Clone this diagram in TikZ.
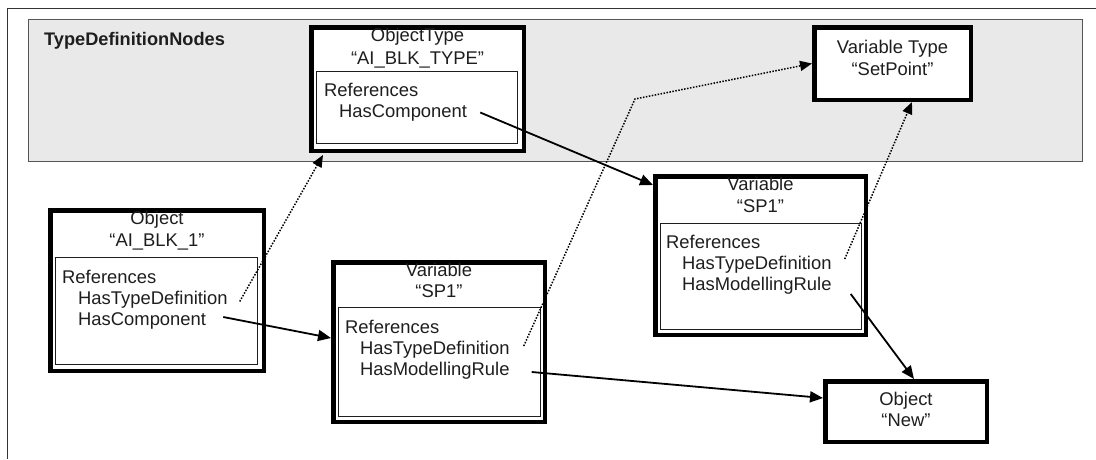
\documentclass[tikz,border=0pt]{standalone}
\usepackage{fontspec}
\setmainfont{Liberation Sans}
\usetikzlibrary{arrows.meta}
\definecolor{ink}{HTML}{1E1E1E}
\definecolor{regionfill}{HTML}{E9E9E9}
\definecolor{regionline}{HTML}{555555}
\definecolor{frameline}{HTML}{333333}
\begin{document}
\begin{tikzpicture}[x=1pt,y=-1pt,
  nodebox/.style={draw=black, line width=4.5pt, fill=white, inner sep=0pt},
  refbox/.style={draw=ink, line width=0.7pt, double=white, double distance=0.9pt, inner sep=0pt},
  txt/.style={font=\fontsize{18.4}{22}\selectfont, text=ink, inner sep=0pt, text height=13pt, text depth=4pt},
  boxtitle/.style={txt, anchor=base},
  refentry/.style={txt, anchor=base west},
  solidref/.style={draw=black, line width=1.8pt, -{Triangle[length=13pt,width=11pt]}},
  dottedref/.style={draw=black, line width=1.5pt, dash pattern=on 1.5pt off 1.5pt, -{Triangle[length=12pt,width=10pt]}}
]
\fill[white] (0,0) rectangle (1096,459);
\useasboundingbox (0,0) rectangle (1096,459);

% page frame
\draw[line width=1pt, frameline] (7,459) -- (7,8) -- (1096,8);

% type definition region
\node[draw=regionline, line width=1pt, fill=regionfill, minimum width=1054pt, minimum height=142pt, inner sep=0pt] (tdn) at (555.5,90.5) {};
\node[txt, anchor=base west, font=\fontsize{18.2}{22}\selectfont\bfseries] (tdnlabel) at (44,45) {TypeDefinitionNodes};

% ObjectType "AI_BLK_TYPE"
\node[nodebox, minimum width=212.5pt, minimum height=123.5pt] (ot) at (417.5,89) {};
\node[refbox, minimum width=199.7pt, minimum height=70.7pt] (oti) at (417,107.5) {};
\node[boxtitle] (otA) at (417.5,41) {ObjectType};
\node[boxtitle] (otB) at (417.5,64) {“AI\_BLK\_TYPE”};
\node[refentry] (otR) at (324,96) {References};
\node[refentry] (otHC) at (339,117) {HasComponent};

% Variable Type "SetPoint"
\node[nodebox, minimum width=156.5pt, minimum height=72.5pt] (vt) at (892.5,63.5) {};
\node[boxtitle] (vtA) at (892.5,53) {Variable Type};
\node[boxtitle] (vtB) at (892.5,75) {“SetPoint”};

% Object "AI_BLK_1"
\node[nodebox, minimum width=213.5pt, minimum height=160.5pt] (ao) at (157,290.5) {};
\node[refbox, minimum width=200.7pt, minimum height=105.7pt] (aoi) at (156.5,311) {};
\node[boxtitle] (aoA) at (157,224) {Object};
\node[boxtitle] (aoB) at (157,246) {“AI\_BLK\_1”};
\node[refentry] (aoR) at (62,283) {References};
\node[refentry] (aoTD) at (78,304) {HasTypeDefinition};
\node[refentry] (aoHC) at (78,325) {HasComponent};

% Variable "SP1" (instance)
\node[nodebox, minimum width=211.5pt, minimum height=159.5pt] (sm) at (439,342) {};
\node[refbox, minimum width=200.7pt, minimum height=107.7pt] (smi) at (439.5,362) {};
\node[boxtitle] (smA) at (439,276) {Variable};
\node[boxtitle] (smB) at (439,297) {“SP1”};
\node[refentry] (smR) at (345,333) {References};
\node[refentry] (smTD) at (360,354) {HasTypeDefinition};
\node[refentry] (smMR) at (360,375) {HasModellingRule};

% Variable "SP1" (type component)
\node[nodebox, minimum width=210.5pt, minimum height=158.5pt] (sr) at (760.5,255.5) {};
\node[refbox, minimum width=199.7pt, minimum height=104.7pt] (sri) at (761,276.5) {};
\node[boxtitle] (srA) at (760.5,190) {Variable};
\node[boxtitle] (srB) at (760.5,212) {“SP1”};
\node[refentry] (srR) at (666,248) {References};
\node[refentry] (srTD) at (682,269) {HasTypeDefinition};
\node[refentry] (srMR) at (682,290) {HasModellingRule};

% Object "New"
\node[nodebox, minimum width=161.5pt, minimum height=60.5pt] (on) at (906,411.5) {};
\node[boxtitle] (onA) at (906,405) {Object};
\node[boxtitle] (onB) at (906,426) {“New”};

% references
\coordinate (bend) at (635,99);
\draw[dottedref] ([xshift=12pt,yshift=-2pt]aoTD.east) -- ([xshift=14pt,yshift=-2pt]ot.south west);
\draw[solidref] ([xshift=17pt,yshift=3.5pt]aoHC.east) -- ([yshift=4pt]sm.west);
\draw[dottedref] ([xshift=14pt,yshift=3.5pt]smTD.east) -- (bend) -- (vt.west);
\draw[solidref] ([xshift=13pt]otHC.east) -- ([yshift=-11pt]sr.north west);
\draw[dottedref] ([xshift=13pt,yshift=5.5pt]srTD.east) -- ([xshift=19.5pt]vt.south);
\draw[solidref] ([xshift=22pt,yshift=-1.5pt]smMR.east) -- ([yshift=13.5pt]on.west);
\draw[solidref] ([xshift=19pt,yshift=-8.5pt]srMR.east) -- ([xshift=8pt]on.north);
\end{tikzpicture}
\end{document}
